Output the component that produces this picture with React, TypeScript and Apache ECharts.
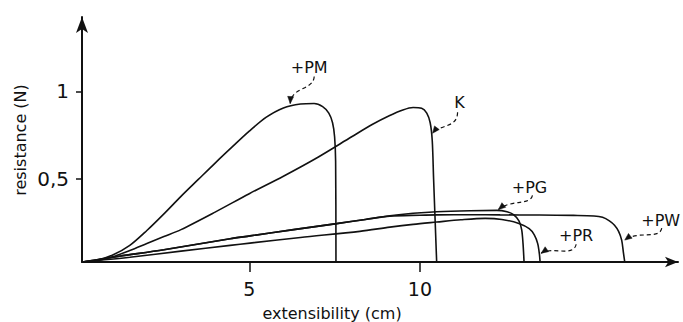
import { useEffect, useRef } from "react";
import * as echarts from "echarts";

// ---- data (extensibility cm, resistance N) ----
const xTickValues = [5, 10];
const yTickValues = [0.5, 1];

const curvePM = [
  [0.1, 0.025], [0.5, 0.033], [1.0, 0.065], [1.5, 0.12], [2.0, 0.205], [2.5, 0.3],
  [3.0, 0.4], [3.5, 0.495], [4.0, 0.59], [4.5, 0.682], [5.0, 0.772], [5.5, 0.852],
  [6.0, 0.905], [6.5, 0.927], [6.9, 0.93], [7.15, 0.912], [7.33, 0.875], [7.44, 0.82],
  [7.5, 0.74], [7.53, 0.6], [7.54, 0.025],
];
const curveK = [
  [0.1, 0.025], [0.5, 0.032], [1.0, 0.055], [1.5, 0.09], [2.0, 0.13], [2.5, 0.17],
  [3.0, 0.21], [4.0, 0.31], [5.0, 0.415], [6.0, 0.515], [7.0, 0.622], [8.0, 0.74],
  [8.6, 0.81], [9.1, 0.86], [9.5, 0.893], [9.8, 0.907], [10.05, 0.903], [10.2, 0.875],
  [10.3, 0.82], [10.36, 0.72], [10.4, 0.5], [10.49, 0.025],
];
const curvePG = [
  [0.1, 0.025], [1.2, 0.058], [2.5, 0.095], [4.44, 0.158], [5.02, 0.174], [6.3, 0.21],
  [7.56, 0.244], [8.4, 0.268], [9.12, 0.289], [9.8, 0.303], [10.49, 0.312], [11.47, 0.318],
  [12.25, 0.32], [12.55, 0.312], [12.74, 0.295], [12.9, 0.26], [12.98, 0.21], [13.02, 0.13],
  [13.05, 0.025],
];
const curvePR = [
  [0.1, 0.025], [1.5, 0.052], [3.0, 0.087], [4.44, 0.12], [5.02, 0.133], [6.5, 0.165],
  [8.24, 0.2], [9.12, 0.224], [9.8, 0.24], [10.49, 0.253], [11.2, 0.266], [11.91, 0.274],
  [12.4, 0.268], [12.9, 0.245], [13.2, 0.215], [13.35, 0.18], [13.45, 0.13], [13.5, 0.07],
  [13.52, 0.025],
];
const curvePW = [
  [0.1, 0.025], [1.2, 0.058], [2.5, 0.095], [4.44, 0.158], [5.02, 0.174], [6.3, 0.21],
  [7.56, 0.244], [8.4, 0.268], [9.12, 0.287], [10.0, 0.292], [10.49, 0.294], [11.5, 0.295],
  [12.35, 0.294], [13.5, 0.293], [14.5, 0.291], [15.1, 0.288], [15.35, 0.28], [15.55, 0.26],
  [15.7, 0.235], [15.82, 0.2], [15.91, 0.15], [15.96, 0.08], [16.0, 0.025],
];

const seriesNames = ["+PM", "K", "+PG", "+PR", "+PW"];
const seriesData = [curvePM, curveK, curvePG, curvePR, curvePW];

// annotation arrow tips (data coords) for each labelled curve
const annotationTips = [
  [6.2, 0.93],
  [10.37, 0.76],
  [12.3, 0.325],
  [13.55, 0.075],
  [16.0, 0.15],
];

// layout offsets (px, relative to tip): text centre, leader start, cp1, cp2
const annotationLayout = [
  { text: [19, -36], s: [24, -27], c1: [23, -13], c2: [1, -17] },
  { text: [27, -31], s: [25, -21], c1: [25, -5], c2: [7, -9] },
  { text: [31, -22], s: [34, -14], c1: [32, -4], c2: [12, -10] },
  { text: [35, -18], s: [35, -9], c1: [33, 4], c2: [10, -7] },
  { text: [36, -20], s: [37, -12], c1: [35, 0], c2: [13, -10] },
];

const INK = "#111";
const FONT = "DejaVu Sans";

export default function App() {
  const ref = useRef<HTMLDivElement>(null);
  useEffect(() => {
    if (!ref.current) return;
    const chart = echarts.init(ref.current, null, { renderer: "svg" });
    chart.setOption({
      animation: false,
      backgroundColor: "#fff",
      grid: { left: 82, right: 5, top: 17, bottom: 60, containLabel: false, outerBoundsMode: "none" },
      xAxis: {
        type: "value",
        min: 0.1,
        max: 17.56,
        splitLine: { show: false },
        axisLine: { show: true, lineStyle: { color: INK, width: 2 }, symbol: ["none", "arrow"], symbolSize: [8, 13] },
        axisTick: { show: true, length: 10, lineStyle: { color: INK, width: 1.5 }, customValues: xTickValues },
        axisLabel: { show: true, color: INK, fontSize: 19, fontFamily: FONT, margin: 17, customValues: xTickValues },
      },
      yAxis: {
        type: "value",
        min: 0.025,
        max: 1.424,
        splitLine: { show: false },
        axisLine: { show: true, lineStyle: { color: INK, width: 2 }, symbol: ["none", "arrow"], symbolSize: [9, 16] },
        axisTick: { show: true, length: 6, lineStyle: { color: INK, width: 1.5 }, customValues: yTickValues },
        axisLabel: {
          show: true, color: INK, fontSize: 20, fontFamily: FONT, margin: 13, customValues: yTickValues,
          formatter: (v: number) => String(v).replace(".", ","),
        },
      },
      series: seriesData.map((d, i) => ({
        name: seriesNames[i],
        type: "line",
        data: d,
        showSymbol: false,
        smooth: 0.3,
        lineStyle: { color: INK, width: 1.6 },
        silent: true,
      })),
    });

    const graphics: any[] = [
      {
        type: "text", x: 332, y: 313,
        style: { text: "extensibility (cm)", fontSize: 16, fontFamily: FONT, fill: INK, align: "center", verticalAlign: "middle" },
      },
      {
        type: "text", x: 20, y: 140, rotation: Math.PI / 2,
        style: { text: "resistance (N)", fontSize: 16, fontFamily: FONT, fill: INK, align: "center", verticalAlign: "middle" },
      },
    ];
    annotationTips.forEach((tip, i) => {
      const p = chart.convertToPixel({ gridIndex: 0 }, tip) as number[];
      const L = annotationLayout[i];
      const [tx, ty] = p;
      graphics.push({
        type: "text", x: tx + L.text[0], y: ty + L.text[1],
        style: { text: seriesNames[i], fontSize: 16, fontFamily: FONT, fill: INK, align: "center", verticalAlign: "middle" },
      });
      graphics.push({
        type: "bezierCurve",
        shape: {
          x1: tx + L.s[0], y1: ty + L.s[1],
          cpx1: tx + L.c1[0], cpy1: ty + L.c1[1],
          cpx2: tx + L.c2[0], cpy2: ty + L.c2[1],
          x2: tx, y2: ty,
        },
        style: { stroke: INK, lineWidth: 1.2, lineDash: [4, 3], fill: null },
      });
      const dx = -L.c2[0], dy = -L.c2[1];
      const len = Math.hypot(dx, dy) || 1;
      const ux = dx / len, uy = dy / len;
      const al = 7, aw = 3;
      const bx = tx - ux * al, by = ty - uy * al;
      graphics.push({
        type: "polygon",
        shape: { points: [[tx, ty], [bx - uy * aw, by + ux * aw], [bx + uy * aw, by - ux * aw]] },
        style: { fill: INK, stroke: INK, lineWidth: 0.5 },
      });
    });
    chart.setOption({ graphic: graphics });
    return () => chart.dispose();
  }, []);
  return (
    <div
      ref={ref}
      style={{ position: "fixed", left: 0, top: 0, width: 683, height: 322, background: "#fff" }}
    />
  );
}
